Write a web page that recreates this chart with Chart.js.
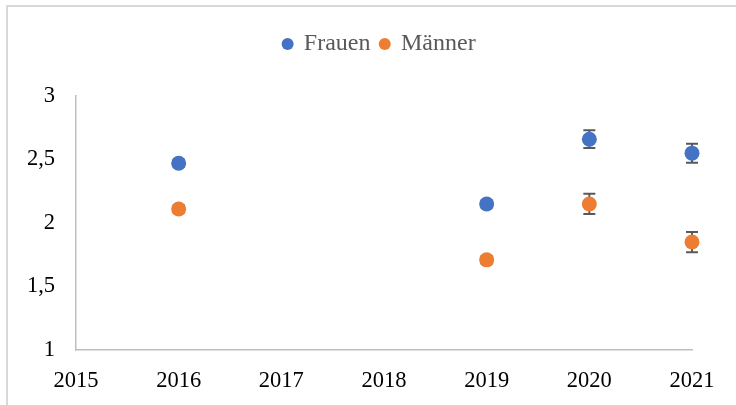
<!DOCTYPE html>
<html lang="de">
<head>
<meta charset="UTF-8">
<title>Frauen / Männer</title>
<script src="https://cdn.jsdelivr.net/npm/chart.js"></script>
<style>
  html, body { margin: 0; padding: 0; background: #fff; overflow: hidden; }
  #wrap { position: relative; width: 736px; height: 405px; }
  #frame { position: absolute; left: 6px; top: 5px; width: 800px; height: 500px;
           border-left: 2px solid #d9d9d9; border-top: 2px solid #d9d9d9; }
  #chart { position: absolute; left: 0; top: 0; }
</style>
</head>
<body>
<div id="wrap">
  <div id="frame"></div>
  <canvas id="chart" width="736" height="405"></canvas>
</div>
<script>
const years = [2016, 2019, 2020, 2021];
const frauen = [2.47, 2.15, 2.66, 2.55];
const maenner = [2.11, 1.71, 2.15, 1.85];
const frauenErr = [0.03, 0.03, 0.07, 0.075];
const maennerErr = [0.03, 0.03, 0.08, 0.08];
const seriesNames = ['Frauen', 'Männer'];

const toPoints = (ys) => years.map((x, i) => ({x: x, y: ys[i]}));

// Fehlerbalken unter den Punkten zeichnen
const errorBars = {
  id: 'errorBars',
  beforeDatasetsDraw(chart) {
    const ctx = chart.ctx;
    const xs = chart.scales.x, ys = chart.scales.y;
    const errs = [frauenErr, maennerErr];
    ctx.save();
    ctx.strokeStyle = '#595959';
    ctx.lineWidth = 2;
    chart.data.datasets.forEach((ds, d) => {
      ds.data.forEach((p, i) => {
        const e = errs[d][i];
        const px = xs.getPixelForValue(p.x);
        const top = ys.getPixelForValue(p.y + e);
        const bot = ys.getPixelForValue(p.y - e);
        ctx.beginPath();
        ctx.moveTo(px, top); ctx.lineTo(px, bot);
        ctx.moveTo(px - 6, top); ctx.lineTo(px + 6, top);
        ctx.moveTo(px - 6, bot); ctx.lineTo(px + 6, bot);
        ctx.stroke();
      });
    });
    ctx.restore();
  }
};

// mehr Platz unter der Legende, Legende etwas nach rechts
const legendSpace = {
  id: 'legendSpace',
  beforeInit(chart) {
    const fit = chart.legend.fit;
    chart.legend.fit = function () {
      fit.bind(chart.legend)();
      this.height += 30;
    };
  },
  afterLayout(chart) {
    chart.legend.left += 30;
    chart.legend.right += 30;
  }
};

const font = {family: '"Liberation Serif", "Times New Roman", serif', size: 22.5};

new Chart(document.getElementById('chart'), {
  type: 'scatter',
  data: {
    datasets: [
      {label: seriesNames[0], data: toPoints(frauen), backgroundColor: '#4472C4',
       borderWidth: 0, pointRadius: 7.5, pointHoverRadius: 7.5, clip: false},
      {label: seriesNames[1], data: toPoints(maenner), backgroundColor: '#ED7D31',
       borderWidth: 0, pointRadius: 7.5, pointHoverRadius: 7.5, clip: false}
    ]
  },
  options: {
    responsive: false,
    animation: false,
    layout: {padding: {left: 7, right: 44, top: 22, bottom: 10}},
    plugins: {
      tooltip: {enabled: false},
      legend: {
        position: 'top',
        labels: {
          usePointStyle: true,
          pointStyle: 'circle',
          boxWidth: 8.5,
          boxHeight: 8.5,
          padding: 10,
          color: '#595959',
          font: {family: font.family, size: 24}
        }
      }
    },
    scales: {
      x: {
        type: 'linear',
        min: 2015, max: 2021,
        grid: {display: false},
        border: {display: true, color: '#bfbfbf', width: 1.5},
        ticks: {stepSize: 1, color: '#000', font: font, padding: 10,
                callback: (v) => String(v)},
        afterFit(axis) { axis.height = 45; }
      },
      y: {
        min: 1, max: 3,
        grid: {display: false},
        border: {display: true, color: '#bfbfbf', width: 1.5},
        ticks: {stepSize: 0.5, color: '#000', font: font, padding: 13,
                callback: (v) => String(v).replace('.', ',')},
        afterFit(axis) { axis.width = 69; }
      }
    }
  },
  plugins: [errorBars, legendSpace]
});
</script>
</body>
</html>
